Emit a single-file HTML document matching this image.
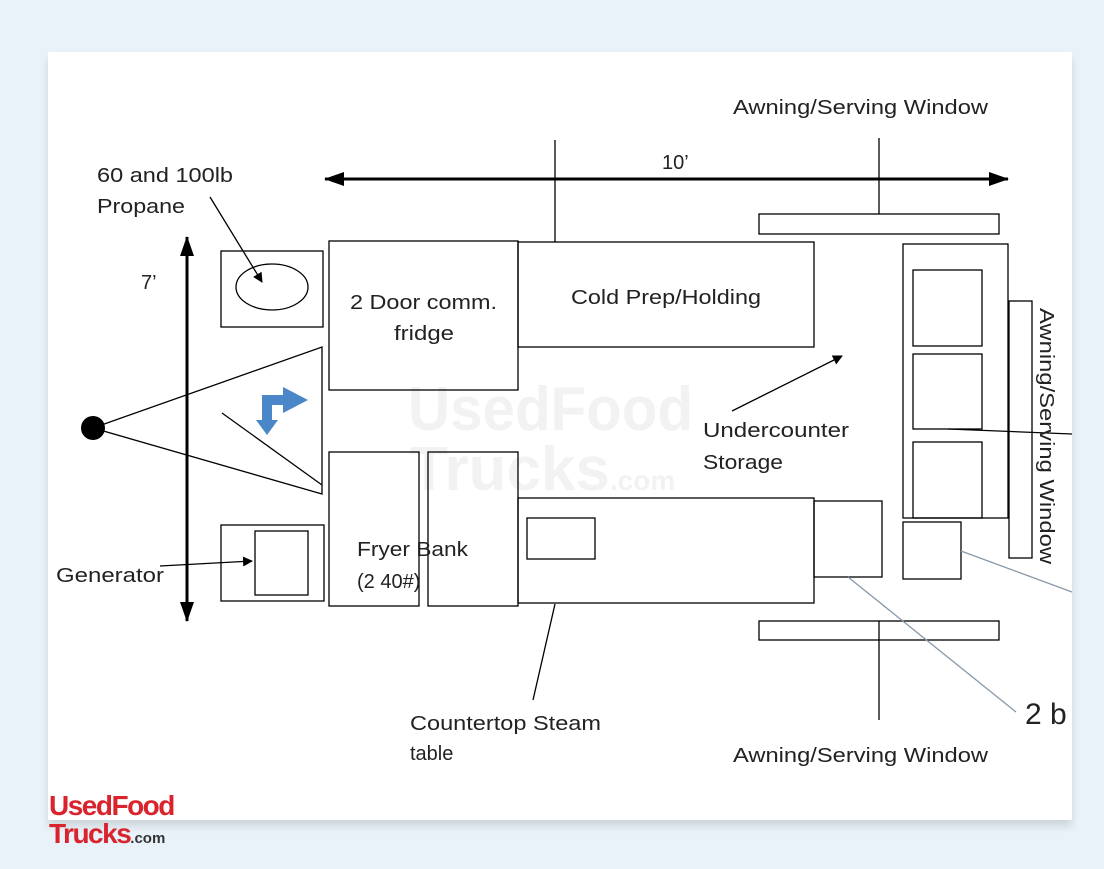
<!DOCTYPE html>
<html><head><style>
body{margin:0;background:#e8f2f8;width:1104px;height:869px;overflow:hidden;font-family:"Liberation Sans",sans-serif}
.card{position:absolute;left:48px;top:52px;width:1024px;height:768px;background:#fff;box-shadow:0 6px 8px rgba(0,0,0,0.12)}
svg{position:absolute;left:0;top:0}
</style></head><body>
<div class="card"></div>
<svg width="1104" height="869" viewBox="0 0 1104 869">
<defs><marker id="a" markerWidth="10" markerHeight="10" refX="9" refY="5" orient="auto-start-reverse" markerUnits="userSpaceOnUse"><path d="M0,0 L10,5 L0,10z" fill="#000"/></marker>
<marker id="b" markerWidth="20" markerHeight="14" refX="19" refY="7" orient="auto-start-reverse" markerUnits="userSpaceOnUse"><path d="M0,0 L20,7 L0,14z" fill="#000"/></marker></defs>
<g font-family="Liberation Sans,sans-serif" fill="#f2f2f2" font-weight="bold" font-size="62"><text x="408" y="430" textLength="285" lengthAdjust="spacingAndGlyphs">UsedFood</text><text x="410" y="490">Trucks<tspan font-size="28">.com</tspan></text></g>
<g stroke="#000" stroke-width="1.3" fill="none">
<line x1="555" y1="140" x2="555" y2="242"/><line x1="879" y1="138" x2="879" y2="214"/>
<line x1="325" y1="179" x2="1008" y2="179" stroke-width="3" marker-start="url(#b)" marker-end="url(#b)"/>
<line x1="187" y1="237" x2="187" y2="621" stroke-width="3" marker-start="url(#b)" marker-end="url(#b)"/>
<rect x="759" y="214" width="240" height="20"/>
<line x1="210" y1="197" x2="262" y2="282" marker-end="url(#a)"/>
<rect x="221" y="251" width="102" height="76"/><ellipse cx="272" cy="287" rx="36" ry="23"/>
<rect x="329" y="241" width="189" height="149"/>
<rect x="518" y="242" width="296" height="105"/>
<path d="M93,428 L322,347 L322,494 Z"/><line x1="222" y1="413" x2="322" y2="485"/>
<line x1="732" y1="411" x2="842" y2="356" marker-end="url(#a)"/>
<rect x="329" y="452" width="90" height="154"/><rect x="428" y="452" width="90" height="154"/>
<rect x="518" y="498" width="296" height="105"/><rect x="527" y="518" width="68" height="41"/>
<rect x="814" y="501" width="68" height="76"/>
<rect x="221" y="525" width="103" height="76"/><rect x="255" y="531" width="53" height="64"/>
<line x1="160" y1="566" x2="252" y2="561" marker-end="url(#a)"/>
<line x1="555" y1="604" x2="533" y2="700"/>
<rect x="759" y="621" width="240" height="19"/><line x1="879" y1="621" x2="879" y2="720"/>
<rect x="903" y="244" width="105" height="274"/>
<rect x="913" y="270" width="69" height="76"/><rect x="913" y="354" width="69" height="75"/><rect x="913" y="442" width="69" height="76"/>
<rect x="1009" y="301" width="23" height="257"/>
<line x1="948" y1="429" x2="1072" y2="434"/>
<rect x="903" y="522" width="58" height="57"/>
</g>
<g stroke="#8898a8" stroke-width="1.3"><line x1="961" y1="551" x2="1072" y2="592"/><line x1="848" y1="577" x2="1016" y2="712"/></g>
<circle cx="93" cy="428" r="12" fill="#000"/>
<path d="M262,412 L262,400 L283,400 L283,392 L308,405 L283,418 L283,410 L272,410 L272,425 L278,425 L267,440 L256,425 L262,425 Z" fill="#4a86c8" transform="translate(0,-5)"/>
<g font-family="Liberation Sans,sans-serif" font-size="20" fill="#222">
<text x="733" y="114" textLength="255" lengthAdjust="spacingAndGlyphs">Awning/Serving Window</text>
<text x="662" y="169">10’</text>
<text x="97" y="182" textLength="136" lengthAdjust="spacingAndGlyphs">60 and 100lb</text><text x="97" y="213" textLength="88" lengthAdjust="spacingAndGlyphs">Propane</text>
<text x="141" y="289">7’</text>
<text x="350" y="309" textLength="147" lengthAdjust="spacingAndGlyphs">2 Door comm.</text><text x="394" y="340" textLength="60" lengthAdjust="spacingAndGlyphs">fridge</text>
<text x="571" y="304" textLength="190" lengthAdjust="spacingAndGlyphs">Cold Prep/Holding</text>
<text x="703" y="437" textLength="146" lengthAdjust="spacingAndGlyphs">Undercounter</text><text x="703" y="469" textLength="80" lengthAdjust="spacingAndGlyphs">Storage</text>
<text x="357" y="556" textLength="111" lengthAdjust="spacingAndGlyphs">Fryer Bank</text><text x="357" y="588">(2 40#)</text>
<text x="56" y="582" textLength="108" lengthAdjust="spacingAndGlyphs">Generator</text>
<text x="410" y="730" textLength="191" lengthAdjust="spacingAndGlyphs">Countertop Steam</text><text x="410" y="760">table</text>
<text x="733" y="762" textLength="255" lengthAdjust="spacingAndGlyphs">Awning/Serving Window</text>
<text transform="translate(1040,308) rotate(90)" textLength="256" lengthAdjust="spacingAndGlyphs">Awning/Serving Window</text>
<text x="1025" y="724" font-size="30">2 b</text>
</g>
<g font-family="Liberation Sans,sans-serif" font-weight="bold" fill="#d9232d" font-size="28" letter-spacing="-1.5">
<text x="49" y="815">UsedFood</text><text x="49" y="843">Trucks<tspan fill="#333" font-size="15" letter-spacing="0">.com</tspan></text></g>
</svg>
</body></html>
